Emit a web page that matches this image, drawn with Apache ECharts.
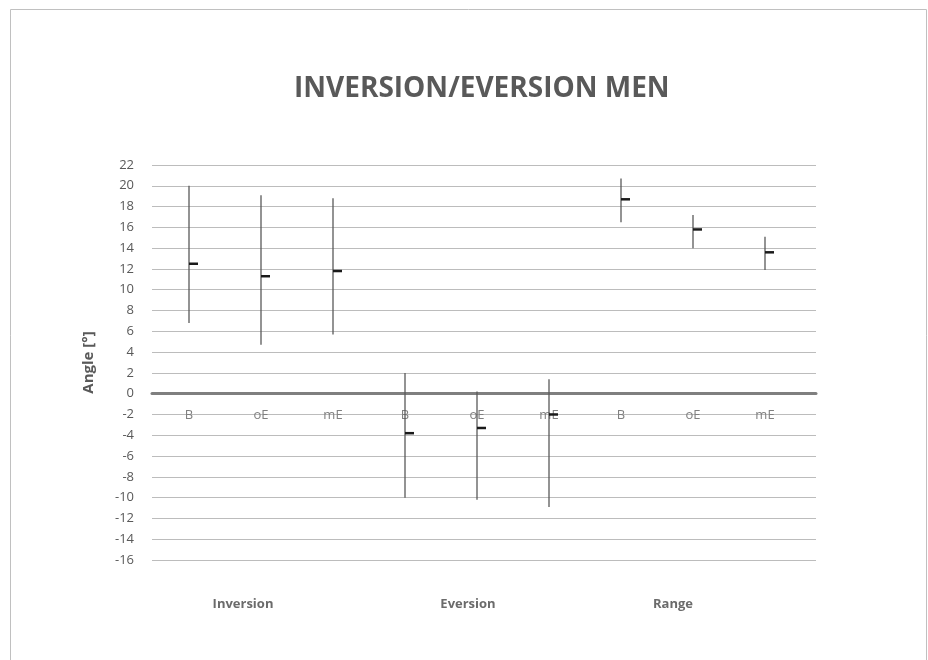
<!DOCTYPE html>
<html>
<head>
<meta charset="utf-8">
<script src="https://cdn.jsdelivr.net/npm/echarts@6/dist/echarts.min.js"></script>
<style>
  html, body { margin: 0; padding: 0; background: #fff; }
  #chart { width: 928px; height: 660px; }
</style>
</head>
<body>
<div id="chart"></div>
<script>
// ---- data ----
const categories = ['B', 'oE', 'mE', 'B', 'oE', 'mE', 'B', 'oE', 'mE'];
const groups = ['Inversion', 'Eversion', 'Range'];
const highValues = [20.0, 19.1, 18.8, 2.0, 0.2, 1.4, 20.7, 17.2, 15.1];
const lowValues  = [6.8, 4.7, 5.7, -10.0, -10.2, -10.9, 16.5, 14.0, 11.9];
const meanValues = [12.5, 11.3, 11.8, -3.8, -3.3, -2.0, 18.7, 15.8, 13.6];
const yTicks = { min: -16, max: 22, step: 2 };

const FONT = '"Open Sans", "Noto Sans", sans-serif';
const chart = echarts.init(document.getElementById('chart'), null, { renderer: 'canvas' });

const hlData = categories.map((c, i) => [i, lowValues[i], highValues[i]]);
const meanData = categories.map((c, i) => [i, meanValues[i]]);

const GRID_TOP = 165, GRID_H = 395;
// move the category axis up to the zero line
const zeroOffset = -(0 - yTicks.min) / (yTicks.max - yTicks.min) * GRID_H;

const groupStyle = { fontFamily: FONT, fontSize: 13, fontWeight: 'bold', fill: '#6b6b6b', align: 'center', verticalAlign: 'middle' };

const option = {
  backgroundColor: '#ffffff',
  animation: false,
  title: {
    text: 'INVERSION/EVERSION MEN',
    left: 289,
    top: 70,
    textStyle: { fontFamily: FONT, fontSize: 28, fontWeight: 'bold', color: '#595959' }
  },
  grid: [
    { left: 152, width: 664, top: GRID_TOP, height: GRID_H, containLabel: false },
    { left: 153, width: 648, top: GRID_TOP, height: GRID_H, containLabel: false }
  ],
  xAxis: [
    {
      type: 'value', gridIndex: 0, min: 0, max: 1,
      axisLine: { show: true, onZero: true, lineStyle: { color: '#7f7f7f', width: 3 } },
      axisTick: { show: false }, axisLabel: { show: false }, splitLine: { show: false }
    },
    {
      type: 'category', gridIndex: 1, data: categories, boundaryGap: true,
      offset: zeroOffset,
      axisLine: { show: false, onZero: false },
      axisTick: { show: false },
      axisLabel: { show: true, margin: 15, fontFamily: FONT, fontSize: 13, color: '#808080', interval: 0 },
      splitLine: { show: false }
    }
  ],
  yAxis: [
    {
      type: 'value', gridIndex: 0, min: yTicks.min, max: yTicks.max, interval: yTicks.step,
      name: 'Angle [°]', nameLocation: 'middle', nameGap: 56,
      nameTextStyle: { fontFamily: FONT, fontSize: 15, fontWeight: 'bold', color: '#595959' },
      axisLine: { show: false }, axisTick: { show: false },
      axisLabel: { margin: 18, fontFamily: FONT, fontSize: 13, color: '#595959' },
      splitLine: { show: true, lineStyle: { color: '#bcbcbc', width: 1 } }
    },
    {
      type: 'value', gridIndex: 1, min: yTicks.min, max: yTicks.max, interval: yTicks.step,
      show: true,
      axisLine: { show: false }, axisTick: { show: false }, axisLabel: { show: false },
      splitLine: { show: false }
    }
  ],
  series: [
    {
      type: 'custom', xAxisIndex: 1, yAxisIndex: 1,
      data: hlData,
      renderItem: function (params, api) {
        const p1 = api.coord([api.value(0), api.value(1)]);
        const p2 = api.coord([api.value(0), api.value(2)]);
        return {
          type: 'line',
          shape: { x1: p1[0], y1: p1[1], x2: p2[0], y2: p2[1] },
          style: { stroke: '#595959', lineWidth: 1.3 }
        };
      },
      z: 3
    },
    {
      type: 'custom', xAxisIndex: 1, yAxisIndex: 1,
      data: meanData,
      renderItem: function (params, api) {
        const p = api.coord([api.value(0), api.value(1)]);
        return {
          type: 'rect',
          shape: { x: p[0], y: p[1] - 1.25, width: 9, height: 2.5 },
          style: { fill: '#1a1a1a' }
        };
      },
      z: 4
    }
  ],
  graphic: [
    { type: 'rect', left: 8, top: 7, shape: { width: 916, height: 700 }, style: { fill: 'none', stroke: '#c0c0c0', lineWidth: 1 }, silent: true },
    { type: 'text', x: 243, y: 604, style: Object.assign({ text: groups[0] }, groupStyle) },
    { type: 'text', x: 468, y: 604, style: Object.assign({ text: groups[1] }, groupStyle) },
    { type: 'text', x: 673, y: 604, style: Object.assign({ text: groups[2] }, groupStyle) }
  ]
};
chart.setOption(option);
</script>
</body>
</html>
